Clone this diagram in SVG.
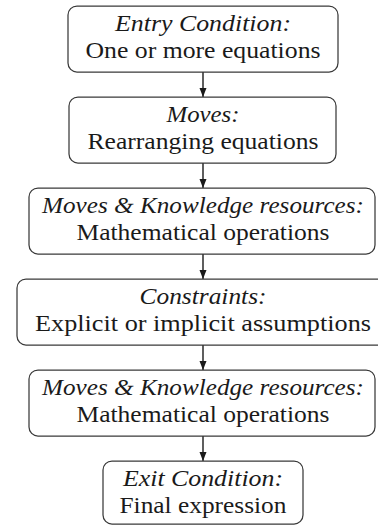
<svg xmlns="http://www.w3.org/2000/svg" width="378" height="527" viewBox="0 0 378 527">
  <style>
    .box { fill: #ffffff; stroke: #3a3a3a; stroke-width: 1.25; }
    .t { font-family: "Liberation Serif", "DejaVu Serif", serif; font-size: 23.5px; fill: #1a1a1a; text-anchor: middle; }
    .it { font-style: italic; }
    .edge { stroke: #1a1a1a; stroke-width: 1.4; fill: none; marker-end: url(#arrow); }
  </style>
  <defs>
    <marker id="arrow" markerWidth="10" markerHeight="10" refX="9" refY="5" orient="auto" markerUnits="userSpaceOnUse">
      <path d="M0,1.5 L9,5 L0,8.5 Z" fill="#1a1a1a"/>
    </marker>
  </defs>
  <rect width="378" height="527" fill="#ffffff"/>

  <!-- connectors: straight downward arrows along the centre line -->
  <g id="edges">
    <line class="edge" x1="203" y1="72" x2="203" y2="97"/>
    <line class="edge" x1="203" y1="163" x2="203" y2="188"/>
    <line class="edge" x1="203" y1="254" x2="203" y2="279"/>
    <line class="edge" x1="203" y1="345" x2="203" y2="370"/>
    <line class="edge" x1="203" y1="436" x2="203" y2="461"/>
  </g>

  <g id="entry">
    <rect class="box" x="68" y="6" width="270" height="66" rx="9"/>
    <text class="t it" x="203" y="30.5" textLength="176" lengthAdjust="spacingAndGlyphs">Entry Condition:</text>
    <text class="t" x="203" y="57.5" textLength="235" lengthAdjust="spacingAndGlyphs">One or more equations</text>
  </g>

  <g id="moves">
    <rect class="box" x="69" y="97" width="267" height="66" rx="9"/>
    <text class="t it" x="203" y="121.5" textLength="73" lengthAdjust="spacingAndGlyphs">Moves:</text>
    <text class="t" x="203" y="148.5" textLength="231" lengthAdjust="spacingAndGlyphs">Rearranging equations</text>
  </g>

  <g id="moves-knowledge-1">
    <rect class="box" x="29" y="188" width="346" height="66" rx="9"/>
    <text class="t it" x="203" y="212.5" textLength="322" lengthAdjust="spacingAndGlyphs">Moves &amp; Knowledge resources:</text>
    <text class="t" x="203" y="239.5" textLength="253" lengthAdjust="spacingAndGlyphs">Mathematical operations</text>
  </g>

  <g id="constraints">
    <rect class="box" x="17" y="279" width="372" height="66" rx="9"/>
    <text class="t it" x="203" y="303.5" textLength="127" lengthAdjust="spacingAndGlyphs">Constraints:</text>
    <text class="t" x="203" y="330.5" textLength="336" lengthAdjust="spacingAndGlyphs">Explicit or implicit assumptions</text>
  </g>

  <g id="moves-knowledge-2">
    <rect class="box" x="29" y="370" width="346" height="66" rx="9"/>
    <text class="t it" x="203" y="394.5" textLength="322" lengthAdjust="spacingAndGlyphs">Moves &amp; Knowledge resources:</text>
    <text class="t" x="203" y="421.5" textLength="253" lengthAdjust="spacingAndGlyphs">Mathematical operations</text>
  </g>

  <g id="exit">
    <rect class="box" x="103" y="461" width="200" height="63" rx="9"/>
    <text class="t it" x="203" y="485.5" textLength="160" lengthAdjust="spacingAndGlyphs">Exit Condition:</text>
    <text class="t" x="203" y="512.5" textLength="167" lengthAdjust="spacingAndGlyphs">Final expression</text>
  </g>
</svg>
